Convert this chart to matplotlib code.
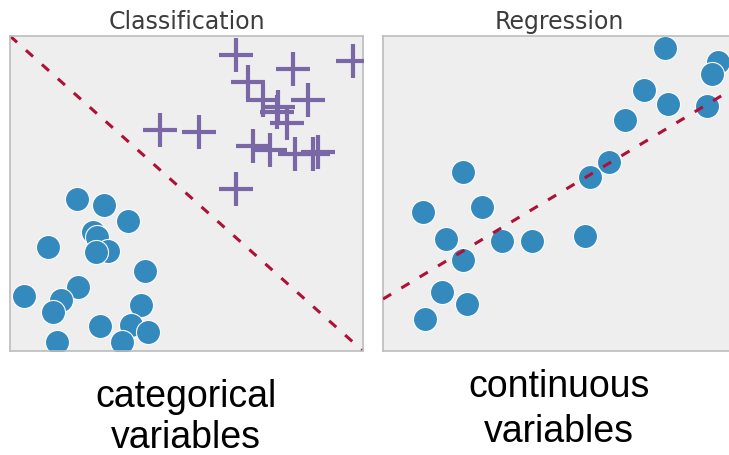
import matplotlib
matplotlib.use("Agg")
import matplotlib.pyplot as plt

# ---- data (0..10 panel scale) ----
cls_circle_x = [1.90, 2.66, 3.34, 2.35, 2.46, 1.08, 2.78, 2.44, 3.82, 1.93,
                0.40, 1.44, 1.22, 3.71, 2.55, 3.43, 3.91, 1.33, 3.17]
cls_circle_y = [4.83, 4.63, 4.13, 3.78, 3.62, 3.30, 3.17, 3.14, 2.54, 2.03,
                1.75, 1.62, 1.24, 1.46, 0.79, 0.83, 0.60, 0.29, 0.29]

cls_cross_x = [6.40, 9.72, 8.02, 6.74, 7.17, 7.59, 8.44, 7.56, 7.85, 4.25,
               5.35, 6.88, 7.37, 8.07, 8.58, 8.73, 6.40]
cls_cross_y = [9.40, 9.21, 8.95, 8.54, 7.97, 7.75, 7.97, 7.59, 7.24, 7.02,
               6.95, 6.51, 6.38, 6.25, 6.25, 6.32, 5.14]

cls_line_x = [0.0, 10.0]
cls_line_y = [10.0, 0.0]

reg_x = [7.99, 9.49, 9.32, 7.39, 8.07, 9.18, 6.86, 6.40, 5.86, 2.27,
         1.13, 2.80, 1.78, 3.37, 4.22, 5.72, 2.27, 1.67, 2.38, 1.19]
reg_y = [9.62, 9.17, 8.79, 8.29, 7.84, 7.78, 7.33, 6.00, 5.52, 5.68,
         4.41, 4.57, 3.56, 3.49, 3.49, 3.65, 2.89, 1.87, 1.49, 1.02]

reg_line_x = [0.0, 10.0]
reg_line_y = [1.65, 8.38]

titles = ["Classification", "Regression"]
captions = [["categorical", "variables"], ["continuous", "variables"]]

# ---- style ----
BLUE = "#348ABD"
PURPLE = "#7A68A6"
RED = "#AE1038"
FACE = "#eeeeee"
EDGE = "#bcbcbc"
DASH = (0, (3.1, 3.9))

W, H = 729, 456
fig = plt.figure(figsize=(W / 100, H / 100), dpi=100)

def axes_px(x0, y0, x1, y1):
    return fig.add_axes([x0 / W, 1 - y1 / H, (x1 - x0) / W, (y1 - y0) / H])

ax1 = axes_px(10, 37, 363, 352)
ax2 = axes_px(383, 37, 736, 352)

for ax, title in zip((ax1, ax2), titles):
    ax.set_facecolor(FACE)
    ax.set_xlim(0, 10)
    ax.set_ylim(0, 10)
    ax.set_xticks([])
    ax.set_yticks([])
    for sp in ax.spines.values():
        sp.set_color(EDGE)
        sp.set_linewidth(1.2)
    ax.set_title(title, fontsize=17, color="#3c3c3c", pad=6,
                 family="DejaVu Sans")

# Classification panel
ax1.plot(cls_line_x, cls_line_y, linestyle=DASH, color=RED, lw=2.2, zorder=1)
ax1.scatter(cls_circle_x, cls_circle_y, s=300, c=BLUE, edgecolors="white",
            linewidths=0.8, zorder=2)
ax1.scatter(cls_cross_x, cls_cross_y, s=620, marker="+", c=PURPLE,
            linewidths=3.0, zorder=3)

# Regression panel
ax2.plot(reg_line_x, reg_line_y, linestyle=DASH, color=RED, lw=2.2, zorder=3)
ax2.scatter(reg_x, reg_y, s=300, c=BLUE, edgecolors="white",
            linewidths=0.8, zorder=2)

# captions below the panels
cap_pos = [(186, [407, 448]), (559, [397, 442])]
for (cx, baselines), lines in zip(cap_pos, captions):
    for yb, line in zip(baselines, lines):
        fig.text(cx / W, 1 - yb / H, line, ha="center", va="baseline",
                 fontsize=27, family="Liberation Sans", color="black")

fig.savefig("out.png", dpi=100)
